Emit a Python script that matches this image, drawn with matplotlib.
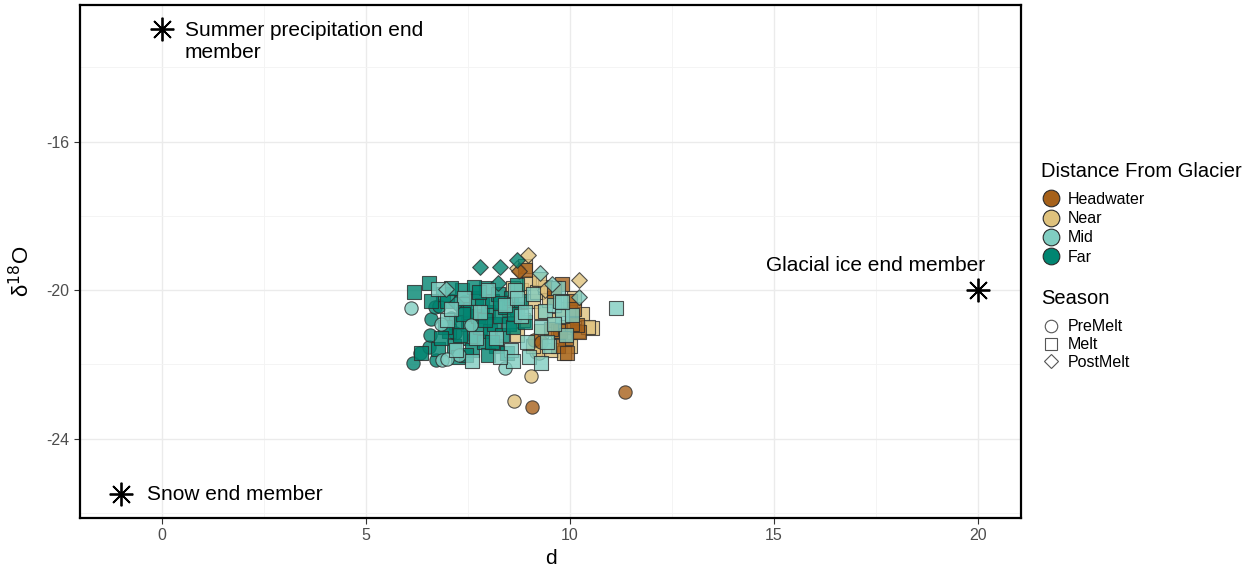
import matplotlib.pyplot as plt
from matplotlib.lines import Line2D
from matplotlib.ticker import MultipleLocator

plt.rcParams['font.family'] = ['Liberation Sans', 'DejaVu Sans']
plt.rcParams['axes.unicode_minus'] = False

# sample points: (d, d18O, season)
far_pts = [
    (6.16, -21.97, 'PreMelt'), (6.32, -21.70, 'PreMelt'), (6.54, -21.52, 'PreMelt'),
    (6.57, -21.21, 'PreMelt'), (6.61, -20.78, 'PreMelt'), (6.70, -20.45, 'PreMelt'),
    (6.80, -20.42, 'PreMelt'), (6.73, -21.88, 'PreMelt'), (7.08, -20.76, 'PreMelt'),
    (7.19, -21.16, 'PreMelt'), (7.41, -20.31, 'PreMelt'), (7.65, -21.26, 'PreMelt'),
    (6.19, -20.05, 'Melt'), (6.55, -19.80, 'Melt'), (6.35, -21.70, 'Melt'),
    (6.76, -21.57, 'Melt'), (6.90, -20.10, 'Melt'), (7.00, -20.30, 'Melt'),
    (7.05, -21.10, 'Melt'), (7.15, -21.50, 'Melt'), (7.25, -21.80, 'Melt'),
    (7.35, -20.00, 'Melt'), (7.40, -20.50, 'Melt'), (7.50, -20.90, 'Melt'),
    (7.55, -21.30, 'Melt'), (7.60, -21.60, 'Melt'), (7.70, -20.20, 'Melt'),
    (7.75, -20.70, 'Melt'), (7.80, -21.00, 'Melt'), (7.85, -20.40, 'Melt'),
    (7.90, -21.40, 'Melt'), (7.95, -19.95, 'Melt'), (8.00, -20.60, 'Melt'),
    (8.05, -21.10, 'Melt'), (8.10, -20.30, 'Melt'), (8.15, -20.90, 'Melt'),
    (8.20, -21.50, 'Melt'), (8.25, -20.10, 'Melt'), (8.30, -20.70, 'Melt'),
    (8.35, -21.20, 'Melt'), (8.40, -20.45, 'Melt'), (8.50, -20.90, 'Melt'),
    (8.55, -20.20, 'Melt'), (8.60, -21.00, 'Melt'), (8.70, -20.50, 'Melt'),
    (8.80, -20.30, 'Melt'), (8.90, -20.85, 'Melt'), (7.20, -20.85, 'Melt'),
    (7.45, -21.75, 'Melt'), (7.10, -19.95, 'Melt'), (6.95, -21.00, 'Melt'),
    (7.65, -19.90, 'Melt'), (8.45, -21.70, 'Melt'), (7.30, -21.20, 'Melt'),
    (6.85, -21.30, 'Melt'), (7.55, -20.60, 'Melt'), (8.00, -21.75, 'Melt'),
    (6.60, -20.30, 'Melt'), (8.70, -19.85, 'Melt'), (8.10, -21.40, 'Melt'),
    (7.78, -20.05, 'Melt'), (8.28, -20.35, 'Melt'), (7.38, -20.65, 'Melt'),
    (7.92, -20.80, 'Melt'), (8.62, -20.65, 'Melt'),
    (7.80, -19.37, 'PostMelt'), (8.28, -19.37, 'PostMelt'), (8.71, -19.19, 'PostMelt'),
    (8.25, -19.80, 'PostMelt'), (7.20, -20.35, 'PostMelt'),
]
mid_pts = [
    (6.10, -20.49, 'PreMelt'), (6.84, -20.91, 'PreMelt'), (6.88, -21.88, 'PreMelt'),
    (7.29, -21.75, 'PreMelt'), (7.57, -20.94, 'PreMelt'), (8.41, -22.10, 'PreMelt'),
    (7.00, -21.85, 'PreMelt'),
    (6.78, -19.96, 'Melt'), (7.00, -20.80, 'Melt'), (7.20, -21.60, 'Melt'),
    (7.40, -20.20, 'Melt'), (7.60, -21.90, 'Melt'), (7.80, -20.60, 'Melt'),
    (8.00, -20.00, 'Melt'), (8.20, -21.30, 'Melt'), (8.40, -20.40, 'Melt'),
    (8.55, -21.60, 'Melt'), (8.65, -20.00, 'Melt'), (8.80, -20.70, 'Melt'),
    (8.95, -21.40, 'Melt'), (9.00, -21.80, 'Melt'), (9.10, -20.10, 'Melt'),
    (9.30, -21.00, 'Melt'), (9.40, -20.55, 'Melt'), (9.50, -21.50, 'Melt'),
    (9.60, -20.40, 'Melt'), (9.70, -19.95, 'Melt'), (9.80, -20.70, 'Melt'),
    (9.90, -21.20, 'Melt'), (9.30, -21.95, 'Melt'), (8.60, -21.90, 'Melt'),
    (8.30, -21.80, 'Melt'), (8.70, -20.20, 'Melt'), (9.60, -20.90, 'Melt'),
    (11.14, -20.47, 'Melt'), (7.70, -21.30, 'Melt'), (7.10, -20.50, 'Melt'),
    (8.90, -20.60, 'Melt'), (9.75, -20.30, 'Melt'), (9.45, -21.40, 'Melt'),
    (10.06, -20.67, 'Melt'), (9.81, -20.31, 'Melt'),
    (9.26, -19.53, 'PostMelt'), (10.22, -20.18, 'PostMelt'), (6.96, -19.96, 'PostMelt'),
    (9.57, -19.82, 'PostMelt'),
]
near_pts = [
    (9.16, -21.66, 'PreMelt'), (9.06, -22.30, 'PreMelt'), (8.63, -22.98, 'PreMelt'),
    (9.25, -21.70, 'PreMelt'),
    (8.60, -19.95, 'Melt'), (8.80, -20.00, 'Melt'), (8.90, -19.35, 'Melt'),
    (9.00, -19.80, 'Melt'), (9.10, -20.30, 'Melt'), (9.20, -20.05, 'Melt'),
    (9.30, -20.60, 'Melt'), (9.40, -19.90, 'Melt'), (9.50, -20.25, 'Melt'),
    (9.60, -20.80, 'Melt'), (9.70, -21.10, 'Melt'), (9.80, -20.50, 'Melt'),
    (9.90, -21.00, 'Melt'), (10.30, -20.63, 'Melt'), (10.20, -21.10, 'Melt'),
    (10.55, -21.03, 'Melt'), (10.45, -21.00, 'Melt'), (9.55, -21.60, 'Melt'),
    (8.70, -21.20, 'Melt'), (9.10, -21.50, 'Melt'), (8.50, -20.50, 'Melt'),
    (10.00, -21.50, 'Melt'), (9.30, -21.10, 'Melt'), (8.85, -20.80, 'Melt'),
    (9.85, -21.70, 'Melt'), (9.25, -19.70, 'Melt'), (10.10, -20.20, 'Melt'),
    (8.98, -19.04, 'PostMelt'), (10.22, -19.73, 'PostMelt'), (9.40, -20.00, 'PostMelt'),
    (8.70, -19.40, 'PostMelt'),
]
head_pts = [
    (9.12, -21.34, 'PreMelt'), (9.08, -23.15, 'PreMelt'), (11.36, -22.73, 'PreMelt'),
    (9.30, -21.40, 'PreMelt'),
    (8.90, -19.45, 'Melt'), (9.81, -19.82, 'Melt'), (9.60, -20.20, 'Melt'),
    (9.75, -21.10, 'Melt'), (9.90, -21.30, 'Melt'), (10.00, -20.30, 'Melt'),
    (10.10, -20.50, 'Melt'), (10.22, -21.12, 'Melt'), (9.55, -21.05, 'Melt'),
    (10.18, -20.94, 'Melt'), (10.05, -20.90, 'Melt'), (9.70, -21.50, 'Melt'),
    (9.93, -21.70, 'Melt'), (9.60, -19.95, 'Melt'),
    (8.75, -19.48, 'PostMelt'),
]

groups = ['Headwater', 'Near', 'Mid', 'Far']
group_pts = {'Headwater': head_pts, 'Near': near_pts, 'Mid': mid_pts, 'Far': far_pts}
group_colors = {'Headwater': '#A6611A', 'Near': '#DFC27D', 'Mid': '#80CDC1', 'Far': '#018571'}
seasons = ['PreMelt', 'Melt', 'PostMelt']
season_markers = {'PreMelt': 'o', 'Melt': 's', 'PostMelt': 'D'}

# end members
end_x = [0, -1, 20]
end_y = [-12.96, -25.5, -20]

fig = plt.figure(figsize=(12.51, 5.69), dpi=100)
ax = fig.add_axes([0.064, 0.090, 0.752, 0.901])

for g in ['Near', 'Headwater', 'Far', 'Mid']:
    for s in seasons:
        pts = [p for p in group_pts[g] if p[2] == s]
        if not pts:
            continue
        xs = [p[0] for p in pts]
        ys = [p[1] for p in pts]
        size = 92 if s != 'PostMelt' else 64
        ax.scatter(xs, ys, s=size, marker=season_markers[s], c=group_colors[g],
                   alpha=0.8, edgecolors='#2b2b2b', linewidths=0.8, zorder=3)

ax.plot(end_x, end_y, linestyle='none', marker=(8, 2, 0), markersize=17,
        color='black', markeredgewidth=1.3, zorder=4)

ax.text(0.56, -12.74, 'Summer precipitation end\nmember', fontsize=15,
        ha='left', va='top', linespacing=1.2)
ax.text(-0.36, -25.5, 'Snow end member', fontsize=15, ha='left', va='center')
ax.text(20.17, -19.33, 'Glacial ice end member', fontsize=15, ha='right', va='center')

ax.set_xlim(-2.0, 21.05)
ax.set_ylim(-26.13, -12.32)
ax.set_xticks([0, 5, 10, 15, 20])
ax.set_yticks([-24, -20, -16])
ax.xaxis.set_minor_locator(MultipleLocator(2.5))
ax.yaxis.set_minor_locator(MultipleLocator(2))
ax.grid(which='major', color='#EBEBEB', linewidth=1.0, zorder=0)
ax.grid(which='minor', color='#F3F3F3', linewidth=0.6, zorder=0)
ax.set_axisbelow(True)
ax.tick_params(which='major', length=4, color='#333333', labelcolor='#4D4D4D',
               labelsize=11.5, width=0.8)
ax.tick_params(which='minor', length=0)
for sp in ax.spines.values():
    sp.set_linewidth(1.6)
    sp.set_color('black')

ax.set_xlabel('d', fontsize=15)
ax.set_ylabel(r'δ$^{18}$O', fontsize=16)
ax.yaxis.set_label_coords(-0.049, 0.48)

# legends
dist_handles = [Line2D([], [], linestyle='none', marker='o', markersize=12,
                       markerfacecolor=group_colors[g], markeredgecolor='#2b2b2b',
                       markeredgewidth=0.8, label=g) for g in groups]
leg1 = fig.legend(handles=dist_handles, title='Distance From Glacier',
                  loc='upper left', bbox_to_anchor=(0.827, 0.727), frameon=False,
                  fontsize=11.5, title_fontsize=14.5, labelspacing=0.27,
                  handletextpad=0.5, handlelength=1.2, borderaxespad=0)
leg1._legend_box.align = 'left'
leg1._legend_box.sep = 8

season_handles = [Line2D([], [], linestyle='none', marker=season_markers[s],
                         markersize=9 if s != 'PostMelt' else 7.5,
                         markerfacecolor='white', markeredgecolor='#555555',
                         markeredgewidth=0.8, label=s) for s in seasons]
leg2 = fig.legend(handles=season_handles, title='Season',
                  loc='upper left', bbox_to_anchor=(0.827, 0.503), frameon=False,
                  fontsize=11.5, title_fontsize=14.5, labelspacing=0.18,
                  handletextpad=0.5, handlelength=1.2, borderaxespad=0)
leg2._legend_box.align = 'left'
leg2._legend_box.sep = 8

fig.savefig('out.png', dpi=100)
